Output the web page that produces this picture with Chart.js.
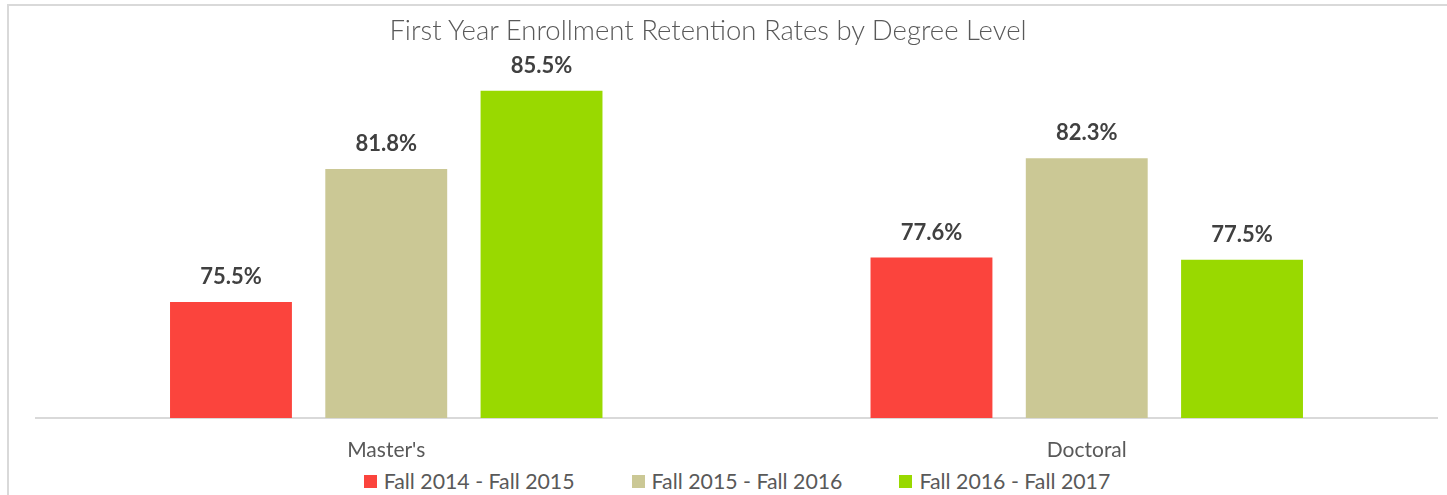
<!DOCTYPE html>
<html>
<head>
<meta charset="utf-8">
<script src="https://cdn.jsdelivr.net/npm/chart.js@4/dist/chart.umd.min.js"></script>
<style>
  html, body { margin:0; padding:0; background:#fff; overflow:hidden; }
  #wrap { position:relative; width:1447px; height:495px; font-family:Lato, "Open Sans", sans-serif; }
  #frame { position:absolute; left:7px; top:4px; width:1500px; height:600px; border-top:2px solid #d9d9d9; border-left:2px solid #d9d9d9; }
  #title { position:absolute; left:0; width:1416px; top:12px; text-align:center; font-size:27.5px; line-height:36px; font-weight:300; color:#595959; }
  #chartBox { position:absolute; left:0; top:0; width:1447px; height:462px; }
  #legend { position:absolute; left:0; width:1474px; top:467px; height:28px; display:flex; justify-content:center; align-items:center; gap:57px; font-size:21.3px; color:#595959; }
  #legend .item { display:flex; align-items:center; }
  #legend .box { width:13px; height:13px; margin-right:7px; }
</style>
</head>
<body>
<div id="wrap">
  <div id="frame"></div>
  <div id="chartBox"><canvas id="retention"></canvas></div>
  <div id="title">First Year Enrollment Retention Rates by Degree Level</div>
  <div id="legend"></div>
</div>
<script>
// categories and series
const degreeLevels = ["Master's", 'Doctoral'];
const periods = ['Fall 2014 - Fall 2015', 'Fall 2015 - Fall 2016', 'Fall 2016 - Fall 2017'];
const fall14to15 = [75.5, 77.6];
const fall15to16 = [81.8, 82.3];
const fall16to17 = [85.5, 77.5];
const barColors = ['#fb443d', '#cbc895', '#99d900'];

const seriesValues = [fall14to15, fall15to16, fall16to17];

// value labels above each bar
const barLabels = {
    id: 'barLabels',
    afterDatasetsDraw(chart) {
        const ctx = chart.ctx;
        ctx.save();
        ctx.font = 'bold 22px Lato, sans-serif';
        ctx.fillStyle = '#404040';
        ctx.textAlign = 'center';
        ctx.textBaseline = 'middle';
        chart.data.datasets.forEach((ds, i) => {
            chart.getDatasetMeta(i).data.forEach((bar, j) => {
                ctx.fillText(ds.data[j].toFixed(1) + '%', bar.x, bar.y - 25);
            });
        });
        ctx.restore();
    }
};

const chart = new Chart(document.getElementById('retention'), {
    type: 'bar',
    data: {
        labels: degreeLevels,
        datasets: periods.map((p, i) => ({
            label: p,
            data: seriesValues[i],
            backgroundColor: barColors[i],
            categoryPercentage: 0.665,
            barPercentage: 0.785
        }))
    },
    options: {
        responsive: true,
        maintainAspectRatio: false,
        animation: false,
        layout: { padding: { top: 38, left: 36, right: 10, bottom: 0 } },
        plugins: { legend: { display: false }, title: { display: false }, tooltip: { enabled: false } },
        scales: {
            x: {
                grid: { display: false },
                border: { display: true, color: '#d9d9d9', width: 2 },
                ticks: { padding: 12, color: '#595959', font: { family: 'Lato', size: 21 } },
                afterFit(s) { s.height = 44; }
            },
            y: { display: false, min: 70, max: 88 }
        }
    },
    plugins: [barLabels]
});

// html legend built from the same series
const legendEl = document.getElementById('legend');
periods.forEach((p, i) => {
    const item = document.createElement('div');
    item.className = 'item';
    item.innerHTML = '<span class="box" style="background:' + barColors[i] + '"></span><span>' + p + '</span>';
    legendEl.appendChild(item);
});
</script>
</body>
</html>
